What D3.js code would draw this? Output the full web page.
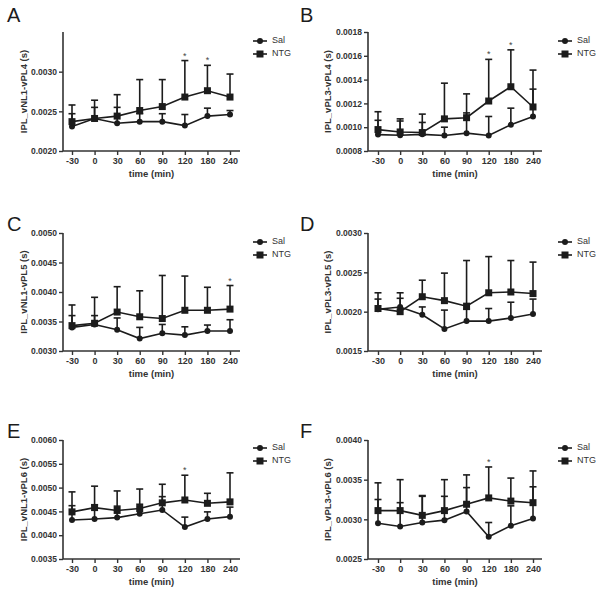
<!DOCTYPE html>
<html><head><meta charset="utf-8">
<script src="https://cdn.jsdelivr.net/npm/d3@7"></script>
<style>body{margin:0;background:#fff}svg{display:block}</style>
</head><body>
<script>
const timeLabels = ["-30","0","30","60","90","120","180","240"];
const seriesNames = ["Sal","NTG"];
const panelLetters = ["A","B","C","D","E","F"];
const yLabels = ["IPL_vNL1-vPL4 (s)","IPL_vPL3-vPL4 (s)","IPL_vNL1-vPL5 (s)","IPL_vPL3-vPL5 (s)","IPL_vNL1-vPL6 (s)","IPL_vPL3-vPL6 (s)"];
const yDomains = [[0.0020,0.0035],[0.0008,0.0018],[0.0030,0.0050],[0.0015,0.0030],[0.0035,0.0060],[0.0025,0.0040]];
const yTicks = [
  [0.0020,0.0025,0.0030],
  [0.0008,0.0010,0.0012,0.0014,0.0016,0.0018],
  [0.0030,0.0035,0.0040,0.0045,0.0050],
  [0.0015,0.0020,0.0025,0.0030],
  [0.0035,0.0040,0.0045,0.0050,0.0055,0.0060],
  [0.0025,0.0030,0.0035,0.0040]
];
// means
const salA = [0.00231,0.00241,0.00235,0.00237,0.00237,0.00232,0.00244,0.00246];
const ntgA = [0.00237,0.00241,0.00244,0.00251,0.00256,0.00268,0.00276,0.00268];
const salB = [0.000938,0.000932,0.00094,0.00093,0.00095,0.00093,0.00102,0.00109];
const ntgB = [0.00098,0.00096,0.000955,0.00107,0.00108,0.00122,0.00134,0.00117];
const salC = [0.00340,0.00345,0.00336,0.00321,0.00330,0.00327,0.00334,0.00334];
const ntgC = [0.00343,0.00347,0.00366,0.00358,0.00355,0.00369,0.00369,0.00371];
const salD = [0.00203,0.00206,0.00196,0.00178,0.00188,0.00188,0.00192,0.00197];
const ntgD = [0.00204,0.00200,0.00219,0.00214,0.00207,0.00224,0.00225,0.00223];
const salE = [0.00432,0.00434,0.00437,0.00445,0.00453,0.00417,0.00434,0.00439];
const ntgE = [0.00449,0.00458,0.00452,0.00456,0.00468,0.00474,0.00467,0.00470];
const salF = [0.00295,0.00291,0.00296,0.00299,0.00310,0.00278,0.00292,0.00301];
const ntgF = [0.00311,0.00311,0.00305,0.00311,0.00319,0.00327,0.00323,0.00321];
// upper error (SD)
const salErrA = [0.00016,0.00014,0.00020,0.00010,0.00010,0.00014,0.00010,0.00005];
const ntgErrA = [0.00021,0.00023,0.00027,0.00039,0.00034,0.00046,0.00032,0.00029];
const salErrB = [0.00012,0.00012,0.00010,0.00007,0.00017,0.00016,0.00014,0.00023];
const ntgErrB = [0.00015,0.00011,0.000155,0.00030,0.00020,0.00035,0.00031,0.00031];
const salErrC = [0.00020,0.00015,0.00020,0.00019,0.00015,0.00014,0.00010,0.00019];
const ntgErrC = [0.00035,0.00044,0.00043,0.00044,0.00073,0.00058,0.00039,0.00040];
const salErrD = [0.00013,0.00011,0.00010,0.00024,0.00015,0.00016,0.00020,0.00019];
const ntgErrD = [0.00020,0.00024,0.00021,0.00035,0.00058,0.00046,0.00040,0.00040];
const salErrE = [0.00030,0.00030,0.00024,0.00020,0.00028,0.00021,0.00015,0.00020];
const ntgErrE = [0.00042,0.00045,0.00041,0.00041,0.00039,0.00052,0.00021,0.00061];
const salErrF = [0.00030,0.00030,0.00033,0.00030,0.00030,0.00018,0.00025,0.00040];
const ntgErrF = [0.00035,0.00039,0.00025,0.00039,0.00037,0.00039,0.00029,0.00040];
// significance markers (categories)
const starsA = ["120","180"], starsB = ["120","180"], starsC = ["240"], starsD = [], starsE = ["120"], starsF = ["120"];

const panels = [
  {sal:salA, ntg:ntgA, salErr:salErrA, ntgErr:ntgErrA, stars:starsA},
  {sal:salB, ntg:ntgB, salErr:salErrB, ntgErr:ntgErrB, stars:starsB},
  {sal:salC, ntg:ntgC, salErr:salErrC, ntgErr:ntgErrC, stars:starsC},
  {sal:salD, ntg:ntgD, salErr:salErrD, ntgErr:ntgErrD, stars:starsD},
  {sal:salE, ntg:ntgE, salErr:salErrE, ntgErr:ntgErrE, stars:starsE},
  {sal:salF, ntg:ntgF, salErr:salErrF, ntgErr:ntgErrF, stars:starsF}
];

const W = 600, H = 592;
const svg = d3.select("body").append("svg").attr("width", W).attr("height", H)
  .style("font-family", "'Liberation Sans', Arial, sans-serif");

const cols = [{ax0:63, ax1:240, p0:72, p1:230, legX:253, letterX:7, ylabX:24},
              {ax0:368, ax1:542, p0:378, p1:533, legX:558, letterX:300, ylabX:328}];
const rows = [{top:32, bot:151, letterY:22, legY:41},
              {top:233, bot:351, letterY:231, legY:242},
              {top:440, bot:559, letterY:438, legY:448}];
const ink = "#1c1c1c";

panels.forEach((p, i) => {
  const c = cols[i % 2], r = rows[Math.floor(i / 2)];
  const g = svg.append("g");
  const x = d3.scalePoint().domain(timeLabels).range([c.p0, c.p1]);
  const y = d3.scaleLinear().domain(yDomains[i]).range([r.bot, r.top]);

  // panel letter
  g.append("text").attr("x", c.letterX).attr("y", r.letterY).text(panelLetters[i])
    .attr("font-size", 20).attr("fill", ink);

  // y axis
  const yAx = g.append("g").attr("transform", `translate(${c.ax0},0)`)
    .call(d3.axisLeft(y).tickValues(yTicks[i]).tickFormat(d3.format(".4f")).tickSizeOuter(0).tickSize(4).tickPadding(2));
  // x axis
  const xAx = g.append("g").attr("transform", `translate(0,${r.bot})`)
    .call(d3.axisBottom(x).tickSizeOuter(0).tickSize(4).tickPadding(3));
  [yAx, xAx].forEach(a => {
    a.select(".domain").attr("stroke", "#333").attr("stroke-width", 1.6);
    a.selectAll(".tick line").attr("stroke", "#333").attr("stroke-width", 1.4);
    a.selectAll(".tick text").attr("font-size", 8.5).attr("font-weight", "bold").attr("fill", "#333");
  });
  // extend axis lines to full frame
  yAx.select(".domain").attr("d", `M0,${r.bot}V${r.top}`);
  xAx.select(".domain").attr("d", `M${c.ax0},0H${c.ax1}`);
  xAx.selectAll(".tick text").attr("font-size", 9);

  // axis titles
  g.append("text").attr("x", (c.ax0 + c.ax1) / 2).attr("y", r.bot + 26).attr("text-anchor", "middle")
    .attr("font-size", 9.5).attr("font-weight", "bold").attr("fill", "#333").text("time (min)");
  g.append("text").attr("transform", `translate(${c.ylabX},${(r.top + r.bot) / 2}) rotate(-90)`)
    .attr("text-anchor", "middle").attr("dominant-baseline", "middle")
    .attr("font-size", 9.5).attr("font-weight", "bold").attr("fill", "#333").text(yLabels[i]);

  const series = [
    {name: seriesNames[0], vals: p.sal, err: p.salErr, shape: "circle"},
    {name: seriesNames[1], vals: p.ntg, err: p.ntgErr, shape: "square"}
  ];
  // error bars (upper)
  series.forEach(s => {
    const eb = g.append("g").attr("stroke", ink).attr("stroke-width", 1.6);
    timeLabels.forEach((t, k) => {
      const cx = x(t), y0 = y(s.vals[k]), y1 = y(s.vals[k] + s.err[k]);
      eb.append("line").attr("x1", cx).attr("x2", cx).attr("y1", y0).attr("y2", y1);
      eb.append("line").attr("x1", cx - 3.5).attr("x2", cx + 3.5).attr("y1", y1).attr("y2", y1);
    });
  });
  // lines
  const line = d3.line().x((d, k) => x(timeLabels[k])).y(d => y(d));
  series.forEach(s => {
    g.append("path").datum(s.vals).attr("d", line).attr("fill", "none")
      .attr("stroke", ink).attr("stroke-width", 1.6);
  });
  // markers
  series.forEach(s => {
    timeLabels.forEach((t, k) => {
      if (s.shape === "circle")
        g.append("circle").attr("cx", x(t)).attr("cy", y(s.vals[k])).attr("r", 3).attr("fill", ink);
      else
        g.append("rect").attr("x", x(t) - 3.5).attr("y", y(s.vals[k]) - 3.5).attr("width", 7).attr("height", 7).attr("fill", ink);
    });
  });
  // significance
  p.stars.forEach(t => {
    const k = timeLabels.indexOf(t);
    g.append("text").attr("x", x(t)).attr("y", y(p.ntg[k] + p.ntgErr[k]) - 2).attr("text-anchor", "middle")
      .attr("font-size", 9).attr("fill", "#444").text("*");
  });
  // legend
  series.forEach((s, j) => {
    const ly = r.legY + j * 13;
    g.append("line").attr("x1", c.legX).attr("x2", c.legX + 14).attr("y1", ly).attr("y2", ly)
      .attr("stroke", ink).attr("stroke-width", 1.6);
    if (s.shape === "circle")
      g.append("circle").attr("cx", c.legX + 7).attr("cy", ly).attr("r", 3).attr("fill", ink);
    else
      g.append("rect").attr("x", c.legX + 3.5).attr("y", ly - 3.5).attr("width", 7).attr("height", 7).attr("fill", ink);
    g.append("text").attr("x", c.legX + 19).attr("y", ly).attr("dominant-baseline", "middle")
      .attr("font-size", 9).attr("fill", "#333").text(s.name);
  });
});
</script>
</body></html>
